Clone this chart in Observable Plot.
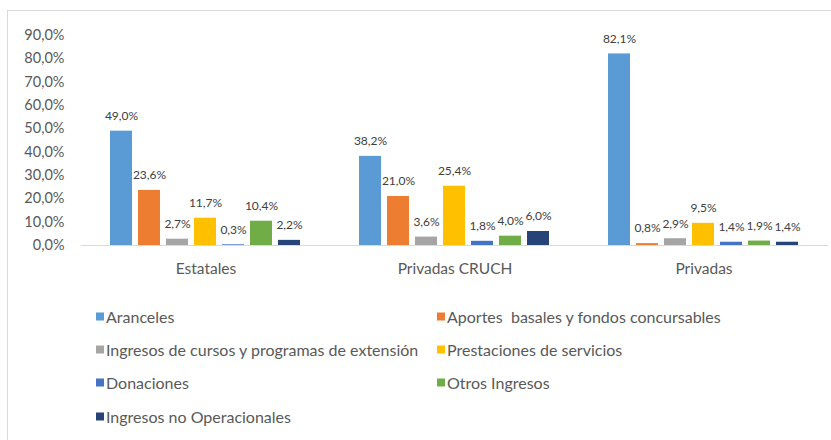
<!DOCTYPE html>
<html>
<head>
<meta charset="utf-8">
<script src="https://cdn.jsdelivr.net/npm/d3@7"></script>
<script src="https://cdn.jsdelivr.net/npm/@observablehq/plot@0.6"></script>
<style>
  html, body { margin: 0; padding: 0; background: #fff; }
  #wrap { position: relative; width: 831px; height: 440px; overflow: hidden; font-family: Lato, "Open Sans", sans-serif; }
  #frame { position: absolute; left: 7px; top: 10px; width: 830px; height: 440px; border-left: 1px solid #d9d9d9; border-top: 1px solid #d9d9d9; box-sizing: border-box; }
  #chart { position: absolute; left: 0; top: 0; }
  #legend { position: absolute; left: 0; top: 0; width: 831px; height: 440px; }
  .item { position: absolute; display: flex; align-items: center; font-size: 16px; color: #595959; white-space: pre; transform: translateY(-50%); }
  .sw { width: 8px; height: 8px; margin-right: 2px; display: inline-block; }
</style>
</head>
<body>
<div id="wrap">
  <div id="frame"></div>
  <div id="chart"></div>
  <div id="legend"></div>
</div>
<script>
const groups = ["Estatales", "Privadas CRUCH", "Privadas"];
const seriesNames = [
  "Aranceles",
  "Aportes  basales y fondos concursables",
  "Ingresos de cursos y programas de extensión",
  "Prestaciones de servicios",
  "Donaciones",
  "Otros Ingresos",
  "Ingresos no Operacionales"
];
const colors = ["#5B9BD5", "#ED7D31", "#A5A5A5", "#FFC000", "#4472C4", "#70AD47", "#264478"];

const aranceles       = [49.0, 38.2, 82.1];
const aportes         = [23.6, 21.0, 0.8];
const ingresosCursos  = [2.7, 3.6, 2.9];
const prestaciones    = [11.7, 25.4, 9.5];
const donaciones      = [0.3, 1.8, 1.4];
const otrosIngresos   = [10.4, 4.0, 1.9];
const noOperacionales = [2.2, 6.0, 1.4];

const yTicks = [0, 10, 20, 30, 40, 50, 60, 70, 80, 90];

const seriesValues = [aranceles, aportes, ingresosCursos, prestaciones, donaciones, otrosIngresos, noOperacionales];
const data = [];
groups.forEach((g, gi) => {
  seriesNames.forEach((s, si) => {
    data.push({group: g, series: s, value: seriesValues[si][gi]});
  });
});

const fmt = v => v.toFixed(1).replace(".", ",") + "%";

const chart = Plot.plot({
  width: 831,
  height: 290,
  marginLeft: 80,
  marginRight: 3,
  marginTop: 35,
  marginBottom: 45,
  style: {fontFamily: "Lato, 'Open Sans', sans-serif", background: "transparent", overflow: "visible"},
  fx: {domain: groups, padding: 0, label: null},
  x: {domain: seriesNames, paddingInner: 0.2, paddingOuter: 0.9, axis: null},
  y: {domain: [0, 90], label: null},
  color: {domain: seriesNames, range: colors},
  marks: [
    Plot.axisY({ticks: yTicks, tickFormat: fmt, tickSize: 0, tickPadding: 17, fontSize: 14.5, color: "#595959", label: null}),
    Plot.axisFx({anchor: "bottom", tickSize: 0, tickPadding: 17, fontSize: 15.5, color: "#595959", label: null}),
    Plot.barY(data, {fx: "group", x: "series", y: "value", fill: "series"}),
    Plot.ruleY([0], {stroke: "#d9d9d9", strokeWidth: 1}),
    Plot.text(data, {fx: "group", x: "series", y: "value", text: d => fmt(d.value), dy: -15, fontSize: 12, fill: "#404040"})
  ]
});
document.getElementById("chart").appendChild(chart);

// legend
const legendPos = [
  [96, 316], [437, 316],
  [96, 349], [437, 349],
  [96, 382], [437, 382],
  [96, 416]
];
const legend = document.getElementById("legend");
seriesNames.forEach((s, i) => {
  const el = document.createElement("div");
  el.className = "item";
  el.style.left = legendPos[i][0] + "px";
  el.style.top = legendPos[i][1] + "px";
  const sw = document.createElement("span");
  sw.className = "sw";
  sw.style.background = colors[i];
  el.appendChild(sw);
  el.appendChild(document.createTextNode(s));
  legend.appendChild(el);
});
</script>
</body>
</html>
